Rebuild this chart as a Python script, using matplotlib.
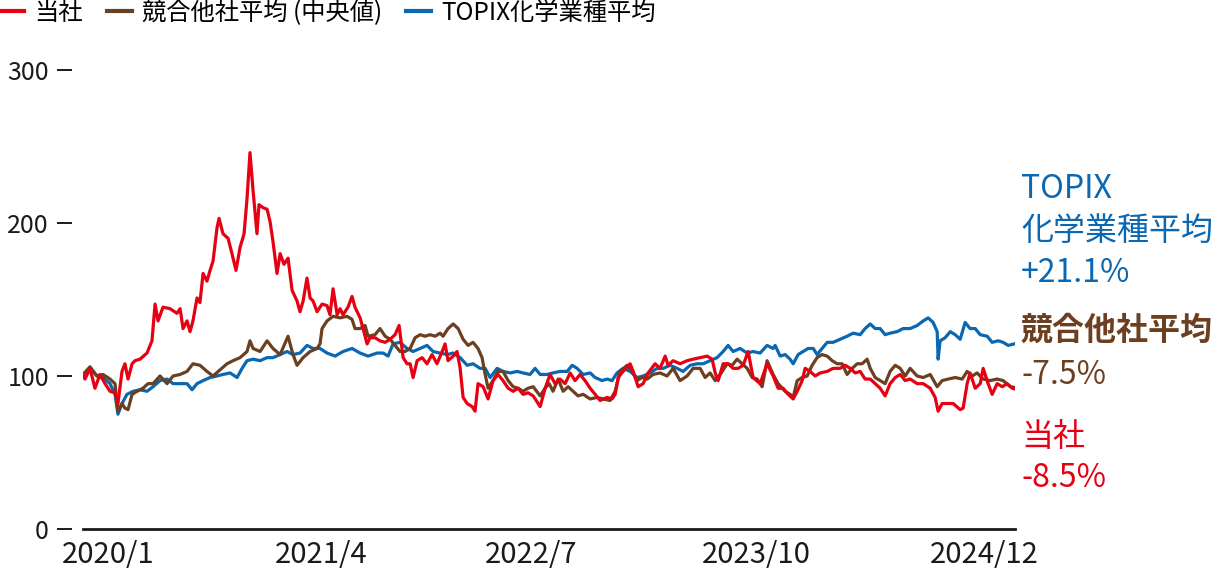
import matplotlib
matplotlib.use("Agg")
import matplotlib.pyplot as plt
from matplotlib.lines import Line2D

plt.rcParams['font.family'] = ['Noto Sans CJK JP', 'DejaVu Sans']

# x values are months since 2020/1 (0 = start of 2020/1, 60 = end of 2024/12)
# index: start = 100
red_t = [0.00, 0.13, 0.45, 0.77, 1.09, 1.42, 1.74, 2.06, 2.25, 2.51, 2.70, 2.90, 3.16, 3.35, 3.67,
         4.12, 4.44, 4.64, 4.83, 5.15, 5.60, 6.05, 6.25, 6.44, 6.70, 6.89, 7.08, 7.34, 7.53, 7.73,
         7.98, 8.18, 8.37, 8.63, 8.76, 9.01, 9.34, 9.59, 9.85, 10.11, 10.37, 10.56, 10.75, 10.95,
         11.20, 11.33, 11.59, 11.85, 12.04, 12.23, 12.49, 12.69, 12.94, 13.20, 13.46, 13.78, 13.97,
         14.17, 14.42, 14.62, 14.81, 15.07, 15.39, 15.71, 15.90, 16.10, 16.36, 16.55, 16.74, 17.06,
         17.32, 17.51, 17.84, 18.03, 18.29, 18.48, 18.80, 19.12, 19.45, 19.77, 20.09, 20.35, 20.61,
         20.86, 21.06, 21.25, 21.51, 21.83, 22.15, 22.47, 22.79, 23.12, 23.31, 23.50, 23.83, 24.08,
         24.28, 24.47, 24.73, 25.05, 25.24, 25.43, 25.76, 26.08, 26.40, 26.72, 27.04, 27.37, 27.69,
         28.01, 28.33, 28.65, 28.98, 29.43, 29.75, 30.07, 30.39, 30.71, 31.04, 31.36, 31.68, 32.00,
         32.32, 32.65, 32.97, 33.29, 33.74, 34.06, 34.26, 34.45, 34.77, 35.22, 35.42, 35.74, 36.06,
         36.38, 36.83, 37.15, 37.48, 37.67, 37.99, 38.44, 38.89, 39.28, 39.73, 40.18, 40.50, 40.70,
         40.89, 41.21, 41.53, 41.85, 42.18, 42.50, 42.82, 43.14, 43.59, 44.04, 44.43, 44.75, 45.07,
         45.40, 45.72, 45.98, 46.30, 46.49, 46.81, 47.14, 47.46, 47.91, 48.29, 48.74, 49.07, 49.39,
         49.71, 50.03, 50.35, 50.68, 51.00, 51.32, 51.64, 51.96, 52.29, 52.61, 52.93, 53.25, 53.70,
         54.09, 54.54, 54.86, 55.05, 55.31, 55.63, 56.02, 56.47, 56.66, 56.92, 57.11, 57.44, 57.76,
         57.95, 58.27, 58.53, 58.85, 59.18, 59.50, 59.82, 60.00]
red_v = [101, 98, 105, 92, 101, 95, 90, 89, 82, 103, 108, 98, 108, 110, 111,
         115, 123, 147, 136, 145, 144, 141, 144, 131, 136, 129, 136, 151, 148, 167,
         162, 169, 175, 197, 203, 193, 190, 180, 169, 184, 193, 216, 246, 221,
         193, 212, 210, 209, 201, 188, 167, 180, 173, 177, 156, 149, 142,
         149, 164, 151, 149, 142, 147, 146, 140, 157, 140, 144, 140, 145,
         152, 145, 138, 131, 121, 125, 125, 123, 122, 124, 127, 133, 112,
         108, 108, 99, 110, 112, 108, 114, 108, 116, 121, 110, 113, 116,
         105, 86, 82, 80, 77, 95, 93, 85, 97, 101, 97, 92, 90,
         92, 88, 89, 87, 80, 92, 101, 95, 98, 95, 102, 97, 101,
         97, 92, 88, 84, 86, 85, 88, 99, 103, 108, 103, 93, 95,
         102, 108, 105, 113, 107, 110, 108, 110, 111, 112, 113, 111, 102,
         97, 108, 108, 105, 105, 107, 116, 99, 95, 108, 100, 92, 92,
         88, 85, 90, 97, 105, 103, 100, 102, 103, 105, 105, 107, 105,
         102, 103, 98, 98, 95, 92, 87, 95, 99, 101, 97, 98, 95,
         95, 92, 86, 77, 82, 82, 82, 78, 79, 95, 102, 92, 95,
         105, 95, 88, 95, 93, 95, 92, 91.5]

peer_t = [0.00, 0.45, 0.90, 1.29, 1.74, 2.06, 2.25, 2.51, 2.70, 2.90, 3.16, 3.48, 3.86, 4.19, 4.51,
          4.96, 5.41, 5.80, 6.25, 6.70, 7.08, 7.53, 7.98, 8.37, 8.82, 9.27, 9.66, 10.11, 10.56,
          10.75, 10.95, 11.40, 11.85, 12.23, 12.69, 13.20, 13.52, 13.78, 14.17, 14.62, 15.07, 15.26,
          15.39, 15.71, 16.10, 16.55, 17.00, 17.32, 17.51, 17.84, 18.16, 18.35, 18.80, 19.12, 19.45,
          19.77, 20.09, 20.41, 20.73, 21.06, 21.38, 21.70, 22.02, 22.34, 22.67, 22.99, 23.18, 23.50,
          23.83, 24.15, 24.47, 24.79, 25.11, 25.43, 25.69, 25.89, 26.08, 26.40, 26.72, 27.04, 27.37,
          27.69, 28.01, 28.33, 28.65, 28.98, 29.43, 29.75, 30.01, 30.26, 30.59, 30.91, 31.23, 31.55,
          31.87, 32.20, 32.65, 33.10, 33.48, 33.93, 34.26, 34.58, 35.03, 35.35, 35.67, 35.99, 36.32,
          36.70, 37.15, 37.60, 37.99, 38.44, 38.89, 39.28, 39.73, 40.05, 40.37, 40.70, 41.02, 41.47,
          41.79, 42.11, 42.43, 42.76, 43.08, 43.40, 43.72, 44.04, 44.43, 44.75, 45.20, 45.52, 45.72,
          45.98, 46.30, 46.62, 46.94, 47.26, 47.58, 47.91, 48.23, 48.55, 48.87, 49.19, 49.52, 49.84,
          50.16, 50.48, 50.68, 51.00, 51.32, 51.64, 51.96, 52.29, 52.61, 52.93, 53.25, 53.70, 54.09,
          54.54, 54.99, 55.31, 55.70, 56.15, 56.60, 56.92, 57.24, 57.56, 57.95, 58.40, 58.85, 59.24,
          59.69, 60.00]
peer_v = [101, 106, 100, 101, 98, 95, 77, 82, 79, 78, 88, 90, 92, 95, 95,
          100, 95, 100, 101, 103, 108, 107, 103, 100, 104, 108, 110, 112, 116,
          123, 118, 116, 123, 118, 114, 126, 114, 107, 112, 116, 118, 121,
          131, 136, 139, 138, 139, 137, 131, 131, 133, 126, 127, 131, 126,
          124, 120, 116, 116, 118, 125, 127, 126, 127, 126, 128, 126, 131,
          134, 131, 124, 120, 122, 118, 112, 101, 92, 97, 103, 103, 97,
          93, 92, 90, 92, 93, 87, 92, 95, 90, 98, 90, 93, 90,
          87, 88, 85, 86, 85, 84, 90, 103, 107, 103, 97, 99, 98,
          101, 102, 100, 105, 97, 100, 105, 105, 99, 102, 97, 101, 108,
          107, 111, 108, 105, 99, 98, 93, 110, 101, 95, 90, 88, 86,
          97, 99, 100, 107, 112, 114, 113, 110, 108, 108, 101, 105, 108,
          108, 111, 105, 99, 97, 95, 103, 107, 105, 100, 105, 100, 99,
          101, 93, 97, 98, 99, 98, 103, 100, 102, 98, 97, 98, 97,
          93, 92.5]

topix_t = [0.00, 0.45, 0.90, 1.29, 1.74, 2.06, 2.25, 2.51, 2.83, 3.22, 3.67, 4.12, 4.51, 4.96, 5.41,
           5.80, 6.25, 6.70, 7.02, 7.34, 7.73, 8.18, 8.63, 9.01, 9.47, 9.92, 10.24, 10.56, 10.95,
           11.40, 11.85, 12.23, 12.69, 13.14, 13.52, 13.97, 14.42, 14.81, 15.26, 15.71, 16.23, 16.74,
           17.32, 17.84, 18.35, 18.93, 19.32, 19.64, 19.96, 20.41, 20.86, 21.25, 21.70, 22.15, 22.54,
           22.99, 23.44, 23.83, 24.28, 24.73, 25.11, 25.56, 25.89, 26.21, 26.66, 27.04, 27.50, 27.95,
           28.33, 28.78, 29.10, 29.43, 29.88, 30.26, 30.71, 31.17, 31.49, 31.81, 32.20, 32.65, 32.97,
           33.42, 33.74, 34.06, 34.38, 34.77, 35.22, 35.67, 36.06, 36.51, 36.96, 37.35, 37.80, 38.25,
           38.63, 39.09, 39.54, 39.92, 40.37, 40.82, 41.21, 41.53, 41.85, 42.30, 42.76, 43.14, 43.59,
           44.04, 44.43, 44.56, 44.88, 45.20, 45.52, 45.72, 46.04, 46.36, 46.68, 47.01, 47.26, 47.58,
           47.91, 48.29, 48.74, 49.19, 49.58, 50.03, 50.35, 50.68, 51.00, 51.32, 51.64, 51.96, 52.41,
           52.80, 53.25, 53.70, 54.09, 54.41, 54.73, 54.99, 55.05, 55.18, 55.50, 55.83, 56.15, 56.47,
           56.79, 57.11, 57.44, 57.76, 58.21, 58.53, 58.92, 59.24, 59.56, 60.00]
topix_v = [101, 105, 100, 99, 95, 88, 75, 82, 88, 90, 91, 90, 93, 97, 98,
           95, 95, 95, 91, 95, 97, 99, 100, 101, 102, 99, 105, 110, 111,
           110, 112, 112, 114, 116, 114, 115, 120, 118, 118, 115, 113, 116,
           118, 115, 113, 115, 115, 113, 121, 122, 118, 116, 118, 120, 116,
           115, 114, 115, 112, 107, 108, 105, 105, 99, 105, 103, 102, 103,
           102, 101, 105, 101, 101, 102, 103, 103, 107, 105, 101, 102, 99,
           97, 98, 97, 102, 105, 103, 99, 100, 102, 105, 105, 107, 105,
           103, 107, 108, 108, 110, 112, 116, 120, 116, 118, 115, 116, 115,
           120, 118, 120, 113, 114, 111, 108, 114, 116, 118, 118, 114, 118,
           122, 122, 124, 126, 128, 127, 131, 134, 131, 131, 127, 128, 129,
           131, 131, 133, 136, 138, 135, 129, 111, 123, 125, 129, 127, 124,
           135, 131, 131, 127, 126, 122, 123, 122, 120, 121.1]

tick_pos = [1.61, 15.33, 28.85, 43.33, 58.02]
tick_labels = ['2020/1', '2021/4', '2022/7', '2023/10', '2024/12']

c_red = '#e60012'
c_brown = '#6b3f1f'
c_blue = '#0a67b1'
c_text = '#1a1a1a'

fig = plt.figure(figsize=(12.14, 5.72), dpi=100)
ax = fig.add_axes([83 / 1214, 43 / 572, 932 / 1214, 459 / 572])

ax.plot(topix_t, topix_v, color=c_blue, lw=2.3, solid_joinstyle='round')
ax.plot(peer_t, peer_v, color=c_brown, lw=2.3, solid_joinstyle='round')
ax.plot(red_t, red_v, color=c_red, lw=2.3, solid_joinstyle='round')

ax.set_xlim(0, 60)
ax.set_ylim(0, 300)
for s in ['top', 'right']:
    ax.spines[s].set_visible(False)
ax.spines['left'].set_position(('outward', 8))
ax.spines['left'].set_color('none')
ax.spines['bottom'].set_linewidth(2.0)
ax.spines['bottom'].set_color(c_text)

ax.set_yticks([0, 100, 200, 300])
ax.tick_params(axis='y', direction='out', length=11, width=1.4, color=c_text,
               labelsize=18, pad=5.5)
ax.set_xticks(tick_pos)
ax.set_xticklabels(tick_labels)
ax.tick_params(axis='x', length=0, labelsize=21, pad=8)
for lab in ax.get_xticklabels() + ax.get_yticklabels():
    lab.set_color(c_text)

handles = [Line2D([], [], color=c, lw=3) for c in (c_red, c_brown, c_blue)]
fig.legend(handles, ['当社', '競合他社平均 (中央値)', 'TOPIX化学業種平均'],
           loc='center left', bbox_to_anchor=(0.0, 1 - 13 / 572), ncol=3, frameon=False,
           fontsize=17.5, handlelength=1.0, handletextpad=0.42, columnspacing=1.0,
           borderaxespad=0, borderpad=0)

fx = 1021 / 1214
notes = [('TOPIX', 189, c_blue, 'normal'),
         ('化学業種平均', 231, c_blue, 'normal'),
         ('+21.1%', 273, c_blue, 'normal'),
         ('競合他社平均', 331, c_brown, 'bold'),
         ('-7.5%', 375, c_brown, 'normal'),
         ('当社', 437, c_red, 'normal'),
         ('-8.5%', 478, c_red, 'normal')]
for txt, py, col, w in notes:
    fig.text(fx, 1 - py / 572, txt, color=col, fontsize=23, fontweight=w,
             ha='left', va='center')

fig.savefig('out.png', dpi=100)
